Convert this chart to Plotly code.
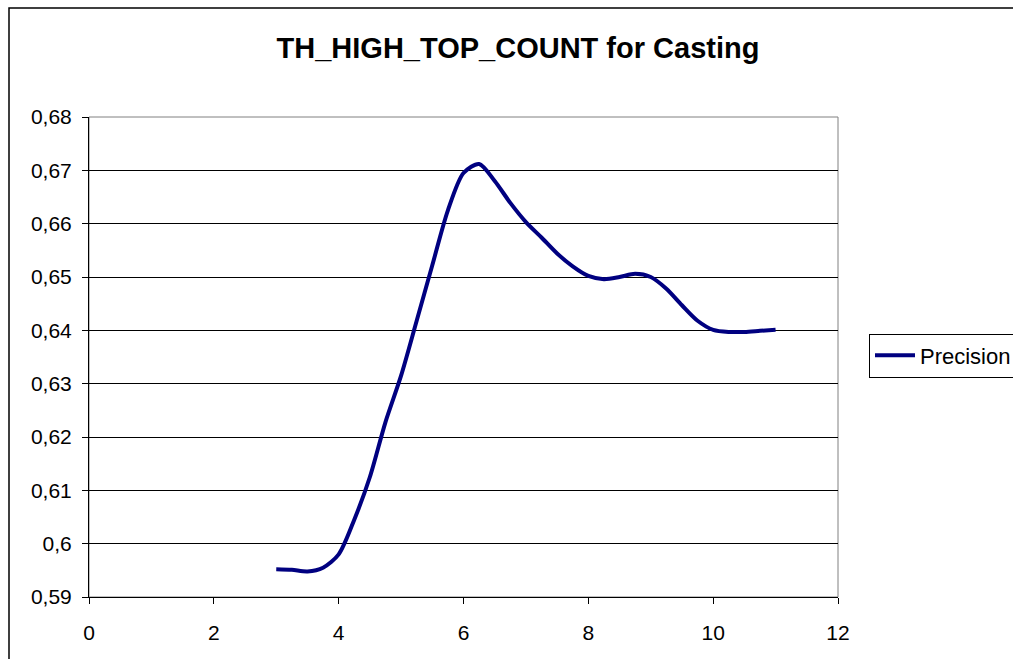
import plotly.graph_objects as go

x_vals = [3.0, 3.25, 3.5, 3.75, 4.0, 4.25, 4.5, 4.75, 5.0, 5.25, 5.5, 5.75, 6.0, 6.25, 6.5, 6.75,
          7.0, 7.25, 7.5, 7.75, 8.0, 8.25, 8.5, 8.75, 9.0, 9.25, 9.5, 9.75, 10.0, 10.25, 10.5, 10.75, 11.0]
precision = [0.5952, 0.5951, 0.5948, 0.5955, 0.5980, 0.6045, 0.6125, 0.6228, 0.6315, 0.6418, 0.6522,
             0.6625, 0.6695, 0.6712, 0.6680, 0.6639, 0.6603, 0.6574, 0.6544, 0.6520, 0.6502, 0.6496,
             0.6500, 0.6506, 0.6500, 0.6478, 0.6447, 0.6418, 0.6401, 0.6397, 0.6397, 0.6399, 0.6401]
y_ticks = [0.59, 0.60, 0.61, 0.62, 0.63, 0.64, 0.65, 0.66, 0.67, 0.68]
y_tick_text = ["0,59", "0,6", "0,61", "0,62", "0,63", "0,64", "0,65", "0,66", "0,67", "0,68"]
x_ticks = [0, 2, 4, 6, 8, 10, 12]
series_name = "Precision"
title_text = "TH_HIGH_TOP_COUNT for Casting"

FONT = "Liberation Sans, Arial, sans-serif"

fig = go.Figure()
fig.add_trace(go.Scatter(
    x=x_vals, y=precision, mode="lines", name=series_name,
    line=dict(color="#000080", width=4, shape="spline", smoothing=0.8),
))

W, H = 1013, 659
L, R, T, B = 89, 838, 117, 597
pw, ph = R - L, B - T

fig.update_layout(
    width=W, height=H,
    margin=dict(l=L, r=W - R, t=T, b=H - B, autoexpand=False),
    paper_bgcolor="white", plot_bgcolor="white",
    font=dict(family=FONT, size=21, color="black"),
    title=dict(text="<b>" + title_text + "</b>", x=518 / W, xref="container", xanchor="center",
               y=1 - 48 / H, yref="container", yanchor="middle",
               font=dict(family=FONT, size=29, color="black")),
    showlegend=True,
    legend=dict(x=(869 - L) / pw, xanchor="left", y=(B - 355.5) / ph, yanchor="middle",
                bordercolor="black", borderwidth=1, bgcolor="white",
                font=dict(family=FONT, size=22, color="black"),
                itemwidth=40, tracegroupgap=0),
    xaxis=dict(range=[0, 12], tickvals=x_ticks, showgrid=False, zeroline=False,
               showline=True, linecolor="black", linewidth=1,
               ticks="outside", ticklen=6, tickcolor="black",
               ticklabelstandoff=11, tickfont=dict(family=FONT, size=21)),
    yaxis=dict(range=[0.59, 0.68], tickvals=y_ticks, ticktext=y_tick_text,
               showgrid=True, gridcolor="black", gridwidth=1, zeroline=False,
               showline=True, linecolor="black", linewidth=1,
               ticks="outside", ticklen=6, tickcolor="black",
               ticklabelstandoff=6, tickfont=dict(family=FONT, size=21)),
    shapes=[
        dict(type="rect", xref="paper", yref="paper",
             x0=(9 - L) / pw, x1=(W + 20 - L) / pw, y0=(B - H - 20) / ph, y1=(B - 8) / ph,
             line=dict(color="black", width=1.5), layer="below"),
        dict(type="rect", xref="paper", yref="paper", x0=0, x1=1, y0=0, y1=1,
             line=dict(color="#808080", width=1), layer="below"),
    ],
)

fig.write_html("out.html")
